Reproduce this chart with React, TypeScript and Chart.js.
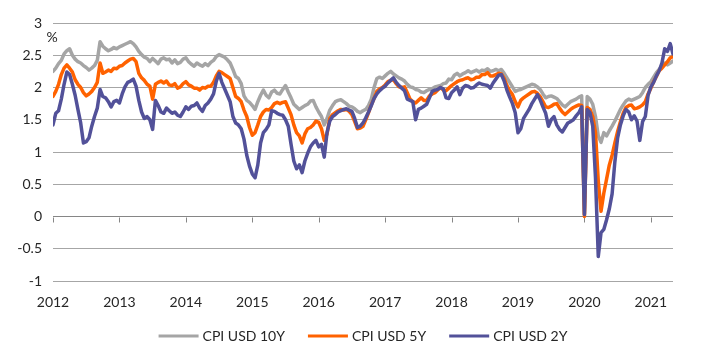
import { useEffect, useRef } from "react";
import { Chart, registerables } from "chart.js";

Chart.register(...registerables);

// Half-monthly observations starting Jan 2012
const startYear = 2012;
const stepsPerYear = 24;

const cpi10Y = [
  2.25, 2.30, 2.37, 2.42, 2.52, 2.57, 2.60, 2.50, 2.44, 2.40,
  2.38, 2.34, 2.31, 2.27, 2.30, 2.34, 2.42, 2.71, 2.64, 2.60,
  2.57, 2.59, 2.62, 2.60, 2.63, 2.65, 2.67, 2.69, 2.71, 2.68,
  2.63, 2.56, 2.51, 2.47, 2.45, 2.40, 2.45, 2.41, 2.37, 2.44,
  2.46, 2.43, 2.44, 2.38, 2.43, 2.37, 2.39, 2.44, 2.46, 2.40,
  2.36, 2.33, 2.38, 2.35, 2.33, 2.37, 2.34, 2.39, 2.42, 2.48,
  2.51, 2.49, 2.47, 2.43, 2.38, 2.28, 2.17, 2.14, 2.06, 1.87,
  1.80, 1.77, 1.72, 1.66, 1.78, 1.88, 1.96, 1.88, 1.84, 1.93,
  1.96, 1.91, 1.90, 1.97, 2.03, 1.93, 1.84, 1.74, 1.70, 1.66,
  1.69, 1.72, 1.74, 1.79, 1.80, 1.70, 1.62, 1.55, 1.42, 1.52,
  1.65, 1.72, 1.78, 1.80, 1.81, 1.78, 1.75, 1.71, 1.70, 1.67,
  1.63, 1.61, 1.64, 1.66, 1.72, 1.82, 2.00, 2.14, 2.16, 2.14,
  2.18, 2.22, 2.25, 2.21, 2.18, 2.15, 2.13, 2.10, 2.05, 2.01,
  2.00, 1.97, 1.96, 1.93, 1.92, 1.95, 1.97, 1.98, 2.01, 2.02,
  2.03, 2.06, 2.07, 2.13, 2.12, 2.19, 2.22, 2.18, 2.21, 2.23,
  2.26, 2.23, 2.25, 2.27, 2.24, 2.27, 2.26, 2.29, 2.25, 2.26,
  2.28, 2.26, 2.28, 2.22, 2.15, 2.08, 2.01, 1.94, 1.96, 1.97,
  1.99, 2.01, 2.03, 2.05, 2.04, 2.01, 1.97, 1.90, 1.84, 1.86,
  1.87, 1.85, 1.83, 1.78, 1.73, 1.70, 1.74, 1.78, 1.80, 1.82,
  1.85, 1.87, 0.03, 1.86, 1.82, 1.74, 1.55, 1.25, 1.15, 1.30,
  1.25, 1.33, 1.40, 1.48, 1.57, 1.66, 1.73, 1.79, 1.82, 1.80,
  1.82, 1.84, 1.86, 1.92, 2.00, 2.05, 2.09, 2.16, 2.23, 2.28,
  2.34, 2.38, 2.35, 2.38, 2.41,
];

const cpi5Y = [
  1.86, 1.94, 2.05, 2.20, 2.30, 2.35, 2.30, 2.24, 2.12, 2.05,
  2.00, 1.92, 1.87, 1.90, 1.94, 2.00, 2.08, 2.38, 2.22, 2.24,
  2.27, 2.25, 2.30, 2.29, 2.33, 2.34, 2.38, 2.41, 2.44, 2.45,
  2.40, 2.22, 2.15, 2.11, 2.05, 2.02, 1.82, 2.05, 2.08, 2.10,
  2.07, 2.10, 2.04, 2.03, 2.06, 1.99, 2.01, 2.06, 2.09, 2.04,
  2.02, 1.99, 1.99, 1.96, 2.00, 1.99, 2.02, 2.02, 2.08, 2.18,
  2.25, 2.23, 2.20, 2.17, 2.14, 2.00, 1.86, 1.83, 1.78, 1.65,
  1.55, 1.38, 1.26, 1.30, 1.42, 1.55, 1.62, 1.66, 1.65, 1.69,
  1.75, 1.77, 1.75, 1.77, 1.78, 1.68, 1.58, 1.42, 1.30, 1.25,
  1.14, 1.28, 1.36, 1.38, 1.42, 1.48, 1.46, 1.36, 1.18, 1.28,
  1.52, 1.58, 1.61, 1.64, 1.66, 1.65, 1.66, 1.63, 1.58, 1.47,
  1.36, 1.37, 1.40, 1.50, 1.61, 1.73, 1.83, 1.94, 1.98, 2.00,
  2.04, 2.09, 2.11, 2.12, 2.06, 2.01, 2.00, 2.01, 1.92, 1.82,
  1.78, 1.76, 1.80, 1.84, 1.80, 1.80, 1.87, 1.90, 1.92, 1.96,
  2.00, 1.96, 1.95, 1.99, 2.03, 2.06, 2.09, 2.11, 2.12, 2.14,
  2.15, 2.12, 2.13, 2.16, 2.16, 2.20, 2.20, 2.23, 2.18, 2.18,
  2.20, 2.22, 2.21, 2.14, 2.03, 1.95, 1.89, 1.78, 1.70, 1.80,
  1.84, 1.87, 1.90, 1.93, 1.94, 1.91, 1.86, 1.78, 1.70, 1.69,
  1.71, 1.74, 1.75, 1.68, 1.62, 1.58, 1.62, 1.66, 1.69, 1.71,
  1.73, 1.72, 0.00, 1.69, 1.66, 1.55, 1.30, 0.55, 0.08, 0.36,
  0.58, 0.80, 0.95, 1.14, 1.32, 1.47, 1.60, 1.69, 1.72, 1.73,
  1.67, 1.68, 1.70, 1.73, 1.78, 1.90, 1.99, 2.09, 2.17, 2.26,
  2.30, 2.35, 2.40, 2.46, 2.48,
];

const cpi2Y = [
  1.42, 1.60, 1.64, 1.82, 2.05, 2.24, 2.20, 2.05, 1.88, 1.66,
  1.45, 1.14, 1.16, 1.22, 1.40, 1.55, 1.68, 1.97, 1.86, 1.84,
  1.78, 1.70, 1.78, 1.80, 1.76, 1.90, 2.01, 2.08, 2.10, 2.13,
  2.02, 1.80, 1.62, 1.52, 1.55, 1.50, 1.35, 1.80, 1.72, 1.62,
  1.60, 1.68, 1.64, 1.60, 1.62, 1.57, 1.55, 1.62, 1.70, 1.66,
  1.71, 1.72, 1.76, 1.68, 1.63, 1.72, 1.76, 1.82, 1.90, 2.10,
  2.22, 2.08, 1.98, 1.88, 1.78, 1.55, 1.45, 1.42, 1.36, 1.20,
  0.95, 0.78, 0.66, 0.60, 0.80, 1.14, 1.30, 1.35, 1.42, 1.64,
  1.63, 1.60, 1.58, 1.57, 1.50, 1.40, 1.12, 0.86, 0.74, 0.80,
  0.68, 0.86, 0.98, 1.08, 1.14, 1.18, 1.08, 1.12, 0.92, 1.30,
  1.48, 1.55, 1.58, 1.62, 1.64, 1.66, 1.67, 1.65, 1.63, 1.52,
  1.38, 1.40, 1.45, 1.53, 1.62, 1.72, 1.83, 1.90, 1.95, 1.99,
  2.02, 2.07, 2.11, 2.15, 2.08, 2.03, 1.99, 1.95, 1.82, 1.80,
  1.78, 1.50, 1.66, 1.68, 1.71, 1.74, 1.84, 1.94, 1.96, 1.97,
  2.00, 1.98, 1.84, 1.83, 1.92, 1.96, 2.01, 1.89, 1.99, 2.03,
  2.02, 1.99, 2.00, 2.04, 2.07, 2.05, 2.04, 2.03, 1.99, 2.07,
  2.13, 2.19, 2.20, 2.10, 1.96, 1.85, 1.75, 1.61, 1.30, 1.36,
  1.52, 1.59, 1.66, 1.75, 1.82, 1.89, 1.81, 1.70, 1.60, 1.40,
  1.50, 1.55, 1.42, 1.35, 1.31, 1.38, 1.45, 1.47, 1.50, 1.56,
  1.61, 1.70, 0.03, 1.66, 1.61, 1.40, 0.60, -0.62, -0.25, -0.20,
  -0.05, 0.12, 0.35, 0.85, 1.22, 1.42, 1.56, 1.66, 1.62, 1.50,
  1.56, 1.48, 1.18, 1.47, 1.55, 1.88, 2.01, 2.08, 2.18, 2.26,
  2.38, 2.60, 2.56, 2.68, 2.52,
];

const dates = cpi10Y.map((_, i) => startYear + i / stepsPerYear);

const seriesLabels = ["CPI USD 10Y", "CPI USD 5Y", "CPI USD 2Y"];
const seriesColors = ["#a5a5a5", "#ff6200", "#525199"];
const xTickYears = [2012, 2013, 2014, 2015, 2016, 2017, 2018, 2019, 2020, 2021];
const yTickValues = [-1, -0.5, 0, 0.5, 1, 1.5, 2, 2.5, 3];
const unitLabel = "%";

const FONT = "Lato, 'Open Sans', sans-serif";
const TEXT = "#262626";
const GRID = "#a6a6a6";
const ZERO = "#868686";

const decorPlugin = {
  id: "decor",
  beforeDatasetsDraw(chart: any) {
    const { ctx, scales } = chart;
    const xs = scales.x;
    const ys = scales.y;
    const y0 = Math.round(ys.getPixelForValue(0)) + 0.5;
    ctx.save();
    ctx.strokeStyle = ZERO;
    ctx.lineWidth = 1;
    xTickYears.forEach((yr) => {
      const px = Math.round(xs.getPixelForValue(yr)) + 0.5;
      ctx.beginPath();
      ctx.moveTo(px, y0);
      ctx.lineTo(px, y0 + 5);
      ctx.stroke();
    });
    ctx.restore();
  },
  afterDraw(chart: any) {
    const { ctx, chartArea, scales } = chart;
    const ys = scales.y;
    ctx.save();
    ctx.font = `14px ${FONT}`;
    ctx.fillStyle = TEXT;
    ctx.textAlign = "center";
    ctx.textBaseline = "middle";
    ctx.fillText(unitLabel, chartArea.left - 1, ys.getPixelForValue(3) + 14);

    // legend
    const lineLen = 40;
    const gap = 4;
    const itemGap = 23;
    const ds = chart.data.datasets;
    const widths = ds.map((d: any) => lineLen + gap + ctx.measureText(d.label).width);
    const total = widths.reduce((a: number, b: number) => a + b, 0) + itemGap * (ds.length - 1);
    let x = (chartArea.left + chartArea.right) / 2 - total / 2;
    const ly = 336;
    ctx.textAlign = "left";
    ds.forEach((d: any, i: number) => {
      ctx.fillStyle = d.borderColor;
      ctx.fillRect(x, ly - 1.5, lineLen, 3);
      ctx.fillStyle = TEXT;
      ctx.fillText(d.label, x + lineLen + gap, ly);
      x += widths[i] + itemGap;
    });
    ctx.restore();
  },
};

export default function App() {
  const ref = useRef<HTMLCanvasElement>(null);
  useEffect(() => {
    const series = [cpi10Y, cpi5Y, cpi2Y];
    const chart = new Chart(ref.current as HTMLCanvasElement, {
      type: "line",
      data: {
        datasets: series.map((vals, k) => ({
          label: seriesLabels[k],
          data: vals.map((v, i) => ({ x: dates[i], y: v })),
          borderColor: seriesColors[k],
          backgroundColor: seriesColors[k],
          borderWidth: 3.5,
          borderJoinStyle: "round",
          borderCapStyle: "round",
          pointRadius: 0,
          tension: 0,
          order: 3 - k,
        })),
      },
      options: {
        animation: false,
        responsive: false,
        devicePixelRatio: 1,
        layout: { padding: { top: 23, left: 0, right: 41, bottom: 0 } },
        plugins: {
          legend: { display: false },
          tooltip: { enabled: false },
        },
        scales: {
          x: {
            type: "linear",
            min: 2012,
            max: 2021 + 1 / 3,
            grid: { display: false, drawTicks: false },
            border: { display: false },
            afterBuildTicks: (scale: any) => {
              scale.ticks = xTickYears.map((v) => ({ value: v }));
            },
            afterFit: (scale: any) => {
              scale.height = 82;
            },
            ticks: {
              autoSkip: false,
              maxRotation: 0,
              padding: 13,
              color: TEXT,
              font: { family: FONT, size: 14 },
              callback: (v: any) => String(v),
            },
          },
          y: {
            type: "linear",
            min: -1,
            max: 3,
            afterBuildTicks: (scale: any) => {
              scale.ticks = yTickValues.map((v) => ({ value: v }));
            },
            afterFit: (scale: any) => {
              scale.width = 53;
            },
            border: { display: false },
            grid: {
              drawTicks: false,
              lineWidth: 1,
              color: (c: any) => (c.tick && c.tick.value === 0 ? ZERO : GRID),
            },
            ticks: {
              padding: 11,
              color: TEXT,
              font: { family: FONT, size: 14 },
              callback: (v: any) => String(v),
            },
          },
        },
      },
      plugins: [decorPlugin],
    } as any);
    return () => chart.destroy();
  }, []);

  return (
    <div style={{ position: "fixed", left: 0, top: 0, width: 714, height: 363, background: "#fff" }}>
      <canvas ref={ref} width={714} height={363} style={{ display: "block" }} />
    </div>
  );
}
